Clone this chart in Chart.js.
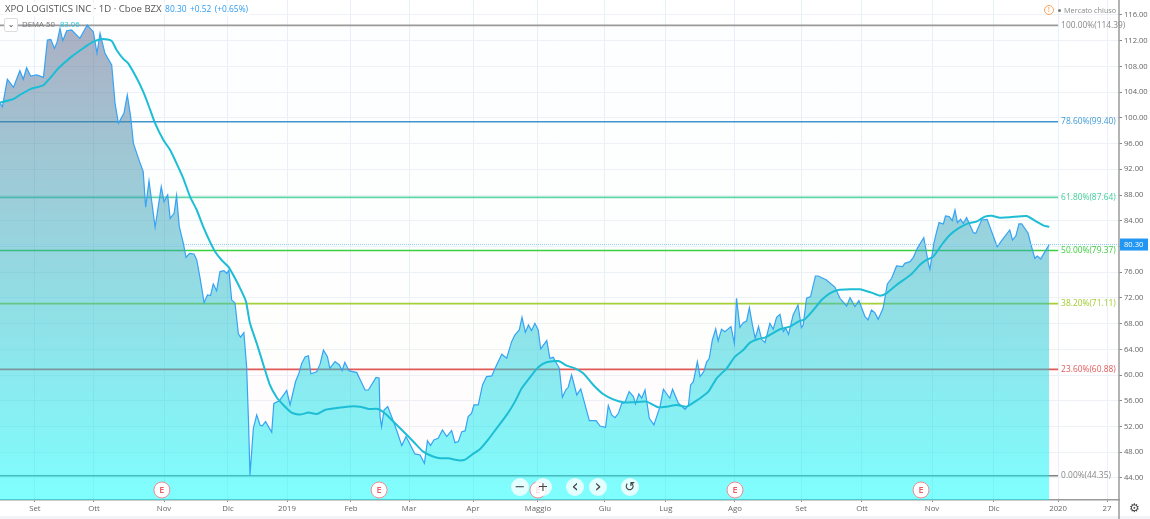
<!DOCTYPE html>
<html>
<head>
<meta charset="utf-8">
<title>XPO LOGISTICS INC</title>
<script src="https://cdn.jsdelivr.net/npm/chart.js@4"></script>
<style>
  html, body { margin: 0; padding: 0; background: #fff; overflow: hidden; }
  #wrap { position: relative; width: 1150px; height: 519px; font-family: "Open Sans", sans-serif; }
  #foot { position: absolute; left: 0; top: 516px; width: 1150px; height: 3px; background: #f1f3f6; }
  canvas { position: absolute; left: 0; top: 0; }
  .hdr { position: absolute; white-space: nowrap; background: rgba(255,255,255,.65); }
  #title { left: 3px; top: 2px; font-size: 9.6px; line-height: 14px; color: #555; padding: 0 2px; }
  #title b { font-weight: 400; font-size: 8.4px; color: #2e9bf0; margin-left: 1px; }
  #study { left: 22px; top: 18px; font-size: 7.8px; line-height: 13px; color: #777; background: none; }
  #study b { font-weight: 400; color: #1fc4dc; margin-left: 3px; }
  #toggle { position: absolute; left: 4px; top: 18px; width: 12px; height: 12px; border: 1px solid #ddd; border-radius: 2px; background: #fff;
    font: 8px/11px "DejaVu Sans"; text-align: center; color: #444; }
  #status { position: absolute; left: 1064px; top: 4px; font-size: 7.3px; line-height: 12px; color: #888; }
  #dot { position: absolute; left: 1058px; top: 9px; width: 3px; height: 3px; border-radius: 50%; background: #777; }
  #warn { position: absolute; left: 1044px; top: 5px; width: 8px; height: 8px; border: 1px solid #f7a35c; border-radius: 50%;
    font-size: 7px; line-height: 8px; text-align: center; color: #f08a30; }
  .nav { position: absolute; top: 478px; width: 18px; height: 18px; border-radius: 50%; background: rgba(255,255,255,.78);
    font: 13px/17px "DejaVu Sans"; text-align: center; color: #444; }
  .nav.big { font-size: 18px; line-height: 15px; }
  #gear { position: absolute; left: 1127px; top: 500px; width: 15px; font: 12px/17px "DejaVu Sans"; text-align: center; color: #444; }
</style>
</head>
<body>
<div id="wrap">
  <div id="foot"></div>
  <canvas id="chart" width="1150" height="519"></canvas>
  <div id="title" class="hdr">XPO LOGISTICS INC · 1D · Cboe BZX <b>80.30</b> <b>+0.52</b> <b>(+0.65%)</b></div>
  <div id="toggle">⌄</div>
  <div id="study" class="hdr">DEMA 50 <b>83.06</b></div>
  <div id="warn">!</div><div id="dot"></div><div id="status">Mercato chiuso</div>
  <div class="nav" style="left:511px">−</div>
  <div class="nav" style="left:534px">+</div>
  <div class="nav big" style="left:566px">‹</div>
  <div class="nav big" style="left:589px">›</div>
  <div class="nav" style="left:621px">↺</div>
  <div id="gear">⚙</div>
</div>
<script>
// bar numbers are trading sessions counted from the left edge of the chart
const priceBars = [0,0.8,2.4,4.4,6.5,7.6,8.7,10,12,14.2,15.5,16.6,17.8,18.7,19.6,20.5,21.8,23.4,26.1,28.5,30.5,31.7,32.7,34.3,36.5,37.6,38.7,40.5,41.6,42.7,43.6,45.8,46.8,47.6,48.7,50.7,52.7,53.6,54.8,55.6,56.9,57.7,58.6,59.9,60.8,61.9,63.4,64.3,
  65.4,66.7,67.8,68.8,69.7,70.8,71.9,73.2,74.1,74.8,75.7,76.8,77.9,78.6,79.7,80.6,81.2,81.7,82.8,83.9,85,85.7,86.8,88.8,89.5,91.3,93.7,94.8,96.6,97.7,98.6,99.7,100.8,101.6,103.5,104.6,
  105.7,107,107.8,109.5,110.9,111.8,112.7,114,116.6,119.3,120.4,122.9,123.9,124.2,124.7,125.5,126.7,128,129.6,131.3,132.7,135.6,137.3,138.7,139.7,140.7,141.8,143.2,144.6,146,147.6,148.7,149.8,150.9,152,153,154.1,154.9,156.3,157.7,159,160.7,162.3,164,165.6,167.2,168.3,169.7,170.6,171.7,172.7,173.7,174.8,175.9,176.7,178.7,179.7,180.8,182.8,183.8,184.9,185.7,186.8,188.5,189.8,192.6,194.8,196.1,197.9,198.8,199.9,201,202.1,203.2,204.2,205.6,207,207.7,208.8,209.7,210.8,212.2,213.7,215.7,216.8,218.9,219.8,221.7,223.9,225,225.7,226.6,227.9,228.8,
  230,230.9,231.8,232.8,233.9,234.7,235.8,236.9,238.9,240,240.7,241.8,242.9,244,244.9,245.9,246.8,247.9,248.9,250,251.6,252.7,253.8,254.9,256,256.8,257.7,259.2,260.8,261.9,262.5,263.6,264.9,266.5,267.4,270.1,272.9,274.5,276.7,277.8,279.4,280.7,282.7,283.7,284.8,285.9,287,288.6,290,291.4,293,295,295.7,297.4,298.5,299.8,301.9,303.4,303.9,305.2,306.1,306.9,308.3,309,310.2,311.2,312.1,312.9,313.9,314.8,315.9,318.1,318.9,320.8,322.6,325.9,327.9,330,330.9,332,333,333.9,336,336.8,338.2,339,340.1,341.5,342.9];
const priceValues = [102.26,101.74,106,104.75,107.34,106,107.8,106.5,106.67,106.3,112.1,112.2,110.8,111.85,113.9,112,113.56,113.67,112.37,114.44,113.4,110.04,113.15,110.04,108.22,102.26,99.15,100.7,103.56,100.2,96.04,92.93,91.64,86.1,90.18,82.98,89.3,86.97,88,84.37,85.15,87.9,83.08,80.5,78.31,78.93,78.83,77.9,
  75.05,71.26,72.46,72.35,74.17,73.1,76.1,76.24,75.83,76.3,71.7,71.2,66.4,65.9,66.6,61.3,53,44.46,51.7,53.8,52.2,52.1,52.76,51.1,55.6,56,57.6,55.35,59,60.3,61.8,62.8,63,60.2,60.5,61.7,
  63.9,62.87,61.05,62.09,61.57,60.69,61.99,60.69,60.38,57.68,57.68,59.65,59.55,53.54,51.98,54.57,55.09,53.54,51.46,49.03,50.43,47.73,47.57,46.28,49.8,49.03,49.91,50.17,51.46,50.43,51.36,49.49,49.65,51.2,51.31,53.54,54.05,55.35,55.35,58.46,59.76,59.86,61.57,63.23,62.61,65.2,66.24,67.01,68.98,66.65,67.79,66.91,68.05,67.01,64.06,65.36,62.61,62.76,61.05,56.54,57.68,58.1,60.02,56.91,57.84,52.91,52.91,52.08,51.88,55.25,53.8,53.38,54.05,55.61,55.71,57.42,56.65,55.51,57.06,56.39,57.68,53.28,52.24,55.09,57.79,56.39,57.79,55.61,54.68,55.35,58.46,58.98,62.09,59.76,
  60.53,61.98,62.61,65.46,67.17,65.3,67.12,66.75,67.53,64.94,71.94,67.43,68.15,68.41,70.49,67.79,65.72,67.53,65.56,65.04,68.05,67.12,68.98,69.45,66.75,67.27,66.34,69.35,70.9,67.38,67.79,71.94,72.2,75.41,75.41,74.79,73.65,71.94,70.74,72.04,70.64,71.57,69.09,68.57,70.12,69.71,68.67,70.38,74.17,75.05,76.97,76.86,77.38,77.64,78.31,79.71,81.37,77.38,76.45,80.49,82.31,83.71,83.5,84.74,84.64,84.02,85.67,83.71,84.22,83.6,84.48,82.15,82.05,84.12,84.22,79.97,81.27,82.56,81,81.63,83.5,83.5,82.05,80.49,78.16,78.52,78.05,79.19,80.3];
const demaBars = [0,4.4,6.5,9.8,14.2,16.3,19.1,23.4,27.2,30.5,33.8,36.5,38.1,40.3,41.9,44.7,46.8,48.5,50.7,53.4,55.6,57.7,59.9,62.1,64.3,66.4,68.6,70.3,72.4,74.6,76.8,79,80.4,81.7,83.9,86.1,88.2,90.4,92.6,95.3,98,100.8,103.5,106.2,109.5,113.3,117.6,120.4,123.6,126.4,129.1,132.4,135.6,138.3,141.1,143.8,146.5,149.8,152,154.1,156.9,159.6,162.3,165.6,168.3,170.5,173.2,175.9,178.6,182.5,185.2,187.9,190.6,193.9,197.2,200.4,203.7,207,211.3,215.1,217.9,221.1,224.4,227.1,228.8,231.5,234.2,237.5,240.2,242.9,245.1,247.8,250,252.2,254.9,258.1,260.9,263,265.8,268.5,271.2,273.9,278.3,281,284.8,287.6,289.7,293,297.9,300.6,302.8,305,307.7,310.4,313.2,316.4,319.1,321.9,324,326.8,330,335.5,338.2,340.9,342.9];
const demaValues = [102.37,102.94,103.56,104.44,105.11,106.15,107.71,109.52,110.82,111.85,112.27,111.96,110.56,109.16,108.48,106.15,104.07,102,99.15,96.56,95,92.93,90.6,87.75,85.67,83.08,80.75,79.19,77.9,76.86,75.05,72.98,71.42,68.05,64.94,61.57,58.46,56.54,55.35,54.16,53.85,54.16,53.95,54.57,54.83,55.09,55.09,54.73,54.73,53.8,52.5,50.94,49.39,48.09,47.42,47.06,47.06,46.74,46.85,47.57,48.51,50.01,51.72,53.8,55.87,57.94,59.65,61.21,61.99,62.19,61.47,61.05,60.28,58.46,57.01,56.23,55.77,55.77,55.87,54.99,55.09,55.35,55.09,55.87,56.39,57.42,59.5,61.05,62.87,63.9,65.04,65.61,65.82,66.39,67.12,67.53,68.31,68.67,70.12,71.68,72.71,73.23,73.34,73.34,72.82,72.35,72.71,74.01,75.72,77.12,77.9,78.42,80.23,81.79,82.82,83.6,83.86,84.64,84.79,84.48,84.53,84.74,84.02,83.29,83.06];

const xTickBars = [11.4,30.7,53.6,74.5,93.8,114.7,133.7,154.6,175.8,197.7,217.6,240.2,261.8,281.7,304.6,324.8,345.8,361.8];
const xTickLabels = ['Set','Ott','Nov','Dic','2019','Feb','Mar','Apr','Maggio','Giu','Lug','Ago','Set','Ott','Nov','Dic','2020','27'];
const yTicks = [44,48,52,56,60,64,68,72,76,80,84,88,92,96,100,104,108,112,116];

const fibPercents = ['100.00','78.60','61.80','50.00','38.20','23.60','0.00'];
const fibValues = [114.39,99.40,87.64,79.37,71.11,60.88,44.35];
const fibColors = ['#9a9a9a','#3f95cc','#5fd6a8','#3ecf3e','#a6cf3c','#e05a5a','#808080'];
const fibLabelColors = ['#888','#3f9bd6','#45cf9c','#3ecf3e','#a0cc30','#e05a5a','#888'];
const fibTints = ['rgba(63,149,204,.008)','rgba(98,214,171,.01)','rgba(98,214,171,.01)','rgba(62,207,62,.01)','rgba(166,207,60,.015)','rgba(224,90,90,.018)'];
const fibEndBar = 345.8;

const earningsBars = [52.9,123.9,175.8,240.2,301];

const lastPrice = 80.30;
const xMin = 0, xMax = 365.7;
const yMin = 40.57, yMax = 118.33;

const toPoints = (xs, ys) => xs.map((x, i) => ({x, y: ys[i]}));

const fibSets = fibValues.map((v, i) => ({
  data: [{x: xMin, y: v}, {x: fibEndBar, y: v}],
  borderColor: fibColors[i],
  borderWidth: 1.6,
  pointRadius: 0,
  order: 5,
  fill: i === 0 ? false : {target: '-1', above: fibTints[i - 1], below: fibTints[i - 1]},
}));

const overlay = {
  id: 'overlay',
  afterDraw(chart) {
    const {ctx, chartArea: area, scales: {x, y}} = chart;
    ctx.save();

    // right axis runs down past the time axis
    ctx.strokeStyle = '#9a9a9a';
    ctx.lineWidth = 1.5;
    ctx.beginPath();
    ctx.moveTo(area.right, 0);
    ctx.lineTo(area.right, chart.height);
    ctx.stroke();

    ctx.textBaseline = 'middle';
    ctx.font = '8.4px "Open Sans"';
    ctx.textAlign = 'left';
    fibValues.forEach((v, i) => {
      ctx.fillStyle = fibLabelColors[i];
      ctx.fillText(fibPercents[i] + '%(' + v.toFixed(2) + ')', x.getPixelForValue(fibEndBar) + 3, y.getPixelForValue(v));
    });

    // earnings flags
    earningsBars.forEach(b => {
      const px = x.getPixelForValue(b);
      const py = area.bottom - 10;
      ctx.beginPath();
      ctx.arc(px, py, 8, 0, Math.PI * 2);
      ctx.fillStyle = '#fff';
      ctx.fill();
      ctx.strokeStyle = '#ee8a90';
      ctx.lineWidth = 1;
      ctx.stroke();
      ctx.fillStyle = '#ec5a64';
      ctx.font = '600 9px "Open Sans"';
      ctx.textAlign = 'center';
      ctx.fillText('E', px, py);
    });

    // last price tag
    const tagY = y.getPixelForValue(lastPrice);
    ctx.fillStyle = '#2196f3';
    ctx.fillRect(area.right + 1, tagY - 6, 28, 12);
    ctx.fillStyle = '#fff';
    ctx.font = '7.6px "Open Sans"';
    ctx.textAlign = 'left';
    ctx.fillText(lastPrice.toFixed(2), area.right + 5, tagY);
    ctx.restore();
  },
};

new Chart('chart', {
  type: 'line',
  plugins: [overlay],
  data: {
    datasets: [
      {
        data: toPoints(demaBars, demaValues),
        borderColor: '#1cbdd5',
        borderWidth: 2,
        tension: 0.2,
        pointRadius: 0,
        order: 1,
      },
      {
        data: [{x: xMin, y: lastPrice}, {x: xMax, y: lastPrice}],
        borderColor: '#8ec9f7',
        borderWidth: 1,
        borderDash: [1, 1],
        pointRadius: 0,
        order: 2,
      },
      {
        data: toPoints(priceBars, priceValues),
        borderColor: '#36a3f4',
        borderWidth: 1.2,
        pointRadius: 0,
        order: 3,
        fill: 'start',
        backgroundColor(ctx) {
          const {chartArea} = ctx.chart;
          if (!chartArea) return 'transparent';
          const g = ctx.chart.ctx.createLinearGradient(0, chartArea.top, 0, chartArea.bottom);
          g.addColorStop(0, 'rgba(96,90,130,.5)');
          g.addColorStop(1, 'rgba(0,255,255,.5)');
          return g;
        },
      },
      ...fibSets,
    ],
  },
  options: {
    responsive: false,
    animation: false,
    devicePixelRatio: 1,
    layout: {padding: 0},
    plugins: {legend: {display: false}, tooltip: {enabled: false}, title: {display: false}},
    scales: {
      x: {
        type: 'linear',
        min: xMin,
        max: xMax,
        afterBuildTicks(axis) { axis.ticks = xTickBars.map(value => ({value})); },
        afterFit(axis) { axis.height = 19; axis.paddingLeft = 0; axis.paddingRight = 0; },
        grid: {color: '#e9f1f8', lineWidth: 1, tickLength: 2, tickColor: '#888'},
        border: {color: '#9a9a9a', width: 1.5},
        ticks: {
          autoSkip: false,
          maxRotation: 0,
          padding: 2,
          color: '#666',
          font: {family: 'Open Sans', size: 7.8},
          callback(v) { return xTickLabels[xTickBars.indexOf(v)]; },
        },
      },
      y: {
        position: 'right',
        min: yMin,
        max: yMax,
        afterBuildTicks(axis) { axis.ticks = yTicks.map(value => ({value})); },
        afterFit(axis) { axis.width = 31; axis.paddingTop = 0; axis.paddingBottom = 0; },
        grid: {color: '#eef2f7', lineWidth: 1, tickLength: 3, tickColor: '#888'},
        border: {display: false},
        ticks: {
          padding: 2,
          color: '#666',
          font: {family: 'Open Sans', size: 7.6},
          callback(v) { return v.toFixed(2); },
        },
      },
    },
  },
});
</script>
</body>
</html>
